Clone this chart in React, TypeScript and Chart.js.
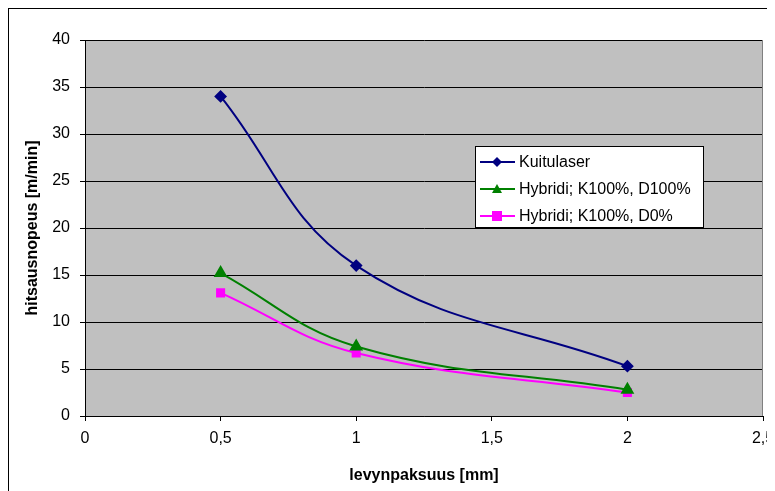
import React, { useEffect, useRef } from "react";
import { Chart, registerables } from "chart.js";

Chart.register(...registerables);

const xValues = [0.5, 1, 2];
const kuitulaser = [34, 16, 5.3];
const hybridiD100 = [15.2, 7.4, 2.8];
const hybridiD0 = [13.1, 6.7, 2.5];
const seriesNames = ["Kuitulaser", "Hybridi; K100%, D100%", "Hybridi; K100%, D0%"];
const xTitle = "levynpaksuus [mm]";
const yTitle = "hitsausnopeus [m/min]";

const FONT = "'Liberation Sans', Arial, sans-serif";

const bgPlugin = {
  id: "plotBg",
  beforeDraw(chart: any) {
    const { ctx, chartArea: a } = chart;
    ctx.save();
    ctx.fillStyle = "#C0C0C0";
    ctx.fillRect(a.left, a.top, a.right - a.left, a.bottom - a.top);
    ctx.restore();
  },
  beforeDatasetsDraw(chart: any) {
    const { ctx, chartArea: a } = chart;
    ctx.save();
    ctx.strokeStyle = "#808080";
    ctx.lineWidth = 1;
    ctx.beginPath();
    ctx.moveTo(Math.round(a.right) - 0.5, a.top);
    ctx.lineTo(Math.round(a.right) - 0.5, a.bottom);
    ctx.stroke();
    ctx.restore();
  },
};

const legendPlugin = {
  id: "innerLegend",
  afterDraw(chart: any) {
    const { ctx } = chart;
    const x0 = 466;
    const y0 = 137;
    const w = 228;
    const h = 81;
    ctx.save();
    ctx.fillStyle = "#FFFFFF";
    ctx.fillRect(x0, y0, w, h);
    ctx.strokeStyle = "#000000";
    ctx.lineWidth = 1;
    ctx.strokeRect(x0 + 0.5, y0 + 0.5, w, h);
    chart.data.datasets.forEach((ds: any, i: number) => {
      const cy = y0 + 16 + i * 27;
      ctx.strokeStyle = ds.borderColor;
      ctx.lineWidth = 2;
      ctx.beginPath();
      ctx.moveTo(x0 + 5, cy);
      ctx.lineTo(x0 + 40, cy);
      ctx.stroke();
      const cx = x0 + 22;
      ctx.fillStyle = ds.backgroundColor;
      ctx.beginPath();
      if (ds.pointStyle === "rectRot") {
        ctx.moveTo(cx, cy - 5);
        ctx.lineTo(cx + 5, cy);
        ctx.lineTo(cx, cy + 5);
        ctx.lineTo(cx - 5, cy);
      } else if (ds.pointStyle === "triangle") {
        ctx.moveTo(cx, cy - 5);
        ctx.lineTo(cx + 5, cy + 4);
        ctx.lineTo(cx - 5, cy + 4);
      } else {
        ctx.rect(cx - 5, cy - 5, 10, 10);
      }
      ctx.closePath();
      ctx.fill();
      ctx.fillStyle = "#000000";
      ctx.font = `16px ${FONT}`;
      ctx.textBaseline = "middle";
      ctx.textAlign = "left";
      ctx.fillText(ds.label, x0 + 44, cy + 1);
    });
    ctx.restore();
  },
};

const fmt = (v: any) => String(v).replace(".", ",");

export default function App() {
  const ref = useRef<HTMLCanvasElement | null>(null);
  useEffect(() => {
    document.body.style.overflow = "hidden";
    const toPts = (ys: number[]) => xValues.map((x, i) => ({ x, y: ys[i] }));
    const chart = new Chart(ref.current as HTMLCanvasElement, {
      type: "line",
      data: {
        datasets: [
          {
            label: seriesNames[0],
            data: toPts(kuitulaser),
            borderColor: "#000080",
            backgroundColor: "#000080",
            pointStyle: "rectRot",
            pointRadius: 5,
            borderWidth: 2,
            tension: 0.4,
          },
          {
            label: seriesNames[1],
            data: toPts(hybridiD100),
            borderColor: "#008000",
            backgroundColor: "#008000",
            pointStyle: "triangle",
            pointRadius: 6,
            borderWidth: 2,
            tension: 0.4,
          },
          {
            label: seriesNames[2],
            data: toPts(hybridiD0),
            borderColor: "#FF00FF",
            backgroundColor: "#FF00FF",
            pointStyle: "rect",
            pointRadius: 5,
            borderWidth: 2,
            tension: 0.4,
          },
        ],
      },
      options: {
        animation: false,
        responsive: false,
        layout: { padding: { top: 31, right: 11, left: 0, bottom: 0 } },
        plugins: { legend: { display: false }, tooltip: { enabled: false } },
        scales: {
          x: {
            type: "linear",
            min: 0,
            max: 2.5,
            ticks: {
              stepSize: 0.5,
              color: "#000",
              font: { family: FONT, size: 16 },
              padding: 8,
              callback: (v: any) => fmt(v),
              maxRotation: 0,
            },
            grid: { drawOnChartArea: false, drawTicks: true, tickLength: 5, color: "#000" },
            border: { color: "#000", width: 1 },
            title: {
              display: true,
              text: xTitle,
              color: "#000",
              font: { family: FONT, size: 16, weight: "bold" },
              padding: { top: 4, bottom: 6 },
            },
            afterFit: (s: any) => {
              s.height = 75;
              s.paddingRight = 0;
              s.paddingLeft = 0;
            },
          },
          y: {
            min: 0,
            max: 40,
            ticks: {
              stepSize: 5,
              color: "#000",
              font: { family: FONT, size: 16 },
              padding: 10,
            },
            grid: { color: "#000", lineWidth: 1, drawTicks: true, tickLength: 5 },
            border: { color: "#000", width: 1 },
            title: {
              display: true,
              text: yTitle,
              color: "#000",
              font: { family: FONT, size: 16, weight: "bold" },
              padding: { top: 14, bottom: 4 },
            },
            afterFit: (s: any) => {
              s.width = 76;
              s.paddingTop = 0;
              s.paddingBottom = 0;
            },
          },
        },
      },
      plugins: [bgPlugin, legendPlugin],
    });
    return () => chart.destroy();
  }, []);
  return (
    <div style={{ width: 765, height: 482, border: "1px solid #000", background: "#fff" }}>
      <canvas ref={ref} width={765} height={482} style={{ display: "block" }} />
    </div>
  );
}
